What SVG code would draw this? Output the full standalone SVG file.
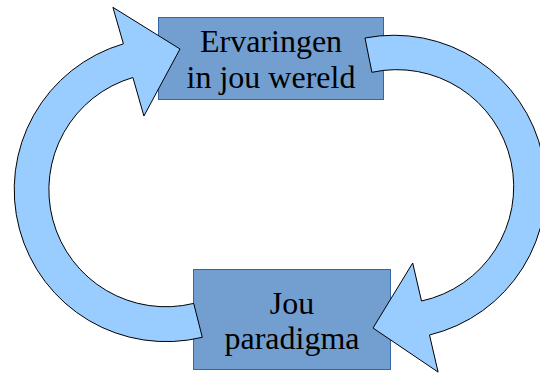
<svg xmlns="http://www.w3.org/2000/svg" width="540" height="374" viewBox="0 0 540 374">
  <style>
    .box { fill: #729fcf; stroke: #3465a4; stroke-width: 1; }
    .lbl { font-family: "Liberation Serif", "Times New Roman", serif; font-size: 32px; fill: #000; text-anchor: middle; }
    .arrow { fill: #99ccff; stroke: #000; stroke-width: 1; stroke-linejoin: miter; }
  </style>
  <rect width="540" height="374" fill="#fff"/>
  <g id="node-ervaringen">
    <rect class="box" x="158.5" y="17.5" width="225" height="82"/>
    <text class="lbl" x="271" y="52">Ervaringen</text>
    <text class="lbl" x="271" y="88">in jou wereld</text>
  </g>
  <g id="node-paradigma">
    <rect class="box" x="193.5" y="269.5" width="197" height="100"/>
    <text class="lbl" x="292" y="313.5">Jou</text>
    <text class="lbl" x="292" y="348.5">paradigma</text>
  </g>
  <g id="connectors">
    <path id="arrow-left" class="arrow" d="M 202.3,337.3 A 152 152 0 0 1 123.4,43.8 L 112.9,7.3 L 180,49 L 143.9,116 L 132.9,77.5 A 117 117 0 0 0 193.7,303.4 Z"/>
    <path id="arrow-right" class="arrow" d="M 365,38 A 152 152 0 0 1 429.5,335 L 438.1,372.1 L 373,328 L 412.7,263 L 421.5,301 A 117 117 0 0 0 371.9,72.3 Z"/>
  </g>
</svg>
